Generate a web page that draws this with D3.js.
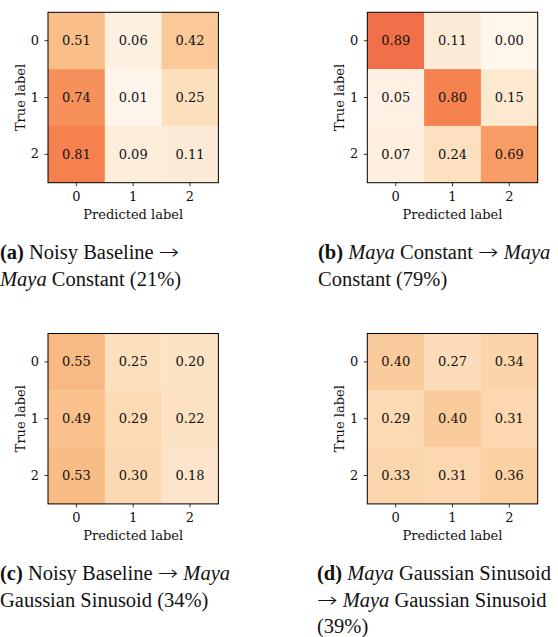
<!DOCTYPE html>
<html>
<head>
<meta charset="utf-8">
<script src="https://cdn.jsdelivr.net/npm/d3@7"></script>
<style>
  html, body { margin: 0; padding: 0; background: #fff; }
  svg { display: block; }
  .cell-text, .tick text, .axis-title { font-family: "DejaVu Serif", serif; fill: #111; }
  .caption { font-family: "Liberation Serif", "Times New Roman", serif; fill: #111; }
</style>
</head>
<body>
<svg id="chart" width="558" height="637"></svg>
<script>
// Class labels shared by every confusion matrix
const classLabels = ["0", "1", "2"];

// Row-normalised confusion matrices (rows = true label, columns = predicted label)
const matrixA = [[0.51, 0.06, 0.42], [0.74, 0.01, 0.25], [0.81, 0.09, 0.11]];
const matrixB = [[0.89, 0.11, 0.00], [0.05, 0.80, 0.15], [0.07, 0.24, 0.69]];
const matrixC = [[0.55, 0.25, 0.20], [0.49, 0.29, 0.22], [0.53, 0.30, 0.18]];
const matrixD = [[0.40, 0.27, 0.34], [0.29, 0.40, 0.31], [0.33, 0.31, 0.36]];

// Sub-figure captions: each line is a list of [text, style] runs
// (styles: b = bold, i = italic, a = arrow glyph)
const captionA = [[["(a)", "b"], [" Noisy Baseline ", ""], ["→", "a"]], [["Maya", "i"], [" Constant (21%)", ""]]];
const captionB = [[["(b)", "b"], [" ", ""], ["Maya", "i"], [" Constant ", ""], ["→", "a"], [" ", ""], ["Maya", "i"]], [["Constant (79%)", ""]]];
const captionC = [[["(c)", "b"], [" Noisy Baseline ", ""], ["→", "a"], [" ", ""], ["Maya", "i"]], [["Gaussian Sinusoid (34%)", ""]]];
const captionD = [[["(d)", "b"], [" ", ""], ["Maya", "i"], [" Gaussian Sinusoid", ""]], [["→", "a"], [" ", ""], ["Maya", "i"], [" Gaussian Sinusoid", ""]], [["(39%)", ""]]];

const axisTitleX = "Predicted label";
const axisTitleY = "True label";

// Panel placement on the page
const layout = [
  { m: matrixA, cap: captionA, x: 48, y: 12.3, capX: 0, capY: 259 },
  { m: matrixB, cap: captionB, x: 367.3, y: 12.3, capX: 318, capY: 259 },
  { m: matrixC, cap: captionC, x: 48, y: 333.5, capX: 0, capY: 580 },
  { m: matrixD, cap: captionD, x: 367.3, y: 333.5, capX: 317, capY: 580 }
];

const size = 170.4;
const fontSize = 13;
const capFont = 20.5;
const capLine = 26.5;

// Orange sequential colour map on a fixed 0–1 scale
const color = d3.scaleLinear()
  .domain([0, 0.1, 0.25, 0.4, 0.55, 0.7, 0.8, 0.9, 1])
  .range(["#fff6ec", "#fdecd9", "#fcdfbd", "#fbcc9b", "#f9b982", "#f89a63", "#f5834f", "#f06e48", "#e95c40"])
  .interpolate(d3.interpolateRgb);

const svg = d3.select("#chart");

layout.forEach(p => {
  const g = svg.append("g").attr("transform", `translate(${p.x},${p.y})`);
  const x = d3.scaleBand().domain(classLabels).range([0, size]);
  const y = d3.scaleBand().domain(classLabels).range([0, size]);

  const cells = p.m.flatMap((row, i) => row.map((v, j) => ({ r: classLabels[i], c: classLabels[j], v })));

  g.selectAll("rect.cell").data(cells).join("rect")
    .attr("class", "cell")
    .attr("x", d => x(d.c))
    .attr("y", d => y(d.r))
    .attr("width", x.bandwidth() + 0.3)
    .attr("height", y.bandwidth() + 0.3)
    .attr("fill", d => color(d.v));

  g.selectAll("text.cell-text").data(cells).join("text")
    .attr("class", "cell-text")
    .attr("x", d => x(d.c) + x.bandwidth() / 2)
    .attr("y", d => y(d.r) + y.bandwidth() / 2)
    .attr("text-anchor", "middle")
    .attr("dominant-baseline", "central")
    .attr("font-size", fontSize)
    .text(d => d.v.toFixed(2));

  // Frame around the matrix
  g.append("rect")
    .attr("x", 0).attr("y", 0).attr("width", size).attr("height", size)
    .attr("fill", "none").attr("stroke", "#000").attr("stroke-width", 1);

  const xAxis = g.append("g").attr("transform", `translate(0,${size})`)
    .call(d3.axisBottom(x).tickSize(3.5).tickPadding(5.5));
  const yAxis = g.append("g")
    .call(d3.axisLeft(y).tickSize(3.5).tickPadding(5.5));
  [xAxis, yAxis].forEach(a => {
    a.select(".domain").remove();
    a.selectAll(".tick line").attr("stroke", "#000").attr("stroke-width", 0.8);
    a.selectAll(".tick text").attr("font-size", fontSize).attr("font-family", "DejaVu Serif").attr("fill", "#111");
  });

  g.append("text").attr("class", "axis-title")
    .attr("x", size / 2).attr("y", size + 36)
    .attr("text-anchor", "middle").attr("font-size", fontSize)
    .text(axisTitleX);

  g.append("text").attr("class", "axis-title")
    .attr("transform", `translate(-23.5,${size / 2}) rotate(-90)`)
    .attr("text-anchor", "middle").attr("font-size", fontSize)
    .text(axisTitleY);

  const cap = svg.append("text").attr("class", "caption")
    .attr("font-size", capFont)
    .style("white-space", "pre");
  p.cap.forEach((line, li) => {
    line.forEach((run, ri) => {
      const t = cap.append("tspan").text(run[0]);
      if (run[1] === "b") t.attr("font-weight", "bold");
      if (run[1] === "i") t.attr("font-style", "italic");
      if (run[1] === "a") {
        t.attr("font-family", "DejaVu Sans").attr("font-weight", 200)
          .attr("textLength", capFont * 1.0).attr("lengthAdjust", "spacingAndGlyphs");
      }
      if (ri === 0) t.attr("x", p.capX).attr("y", p.capY + li * capLine);
    });
  });
});
</script>
</body>
</html>
